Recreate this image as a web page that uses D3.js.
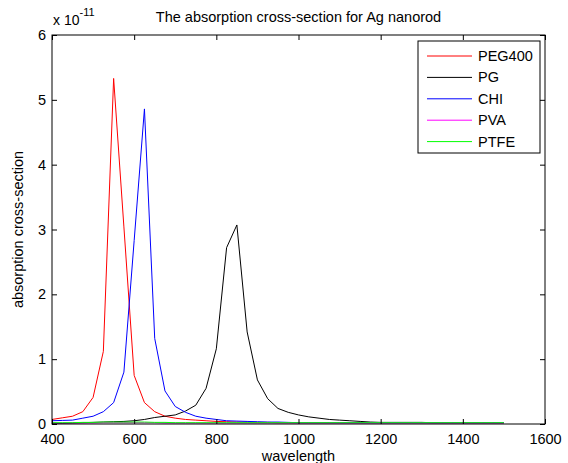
<!DOCTYPE html>
<html>
<head>
<meta charset="utf-8">
<script src="https://cdn.jsdelivr.net/npm/d3@7"></script>
<style>
body{margin:0;background:#fff}
text{font-family:"Liberation Sans",Arial,sans-serif;fill:#000}
</style>
</head>
<body>
<div id="chart"></div>
<script>
// wavelength grid (nm), values in units of 1e-11
var wavelength = [400,425,450,475,500,525,550,575,600,625,650,675,700,725,750,775,800,825,850,875,900,925,950,975,1000,
                  1025,1050,1075,1100,1125,1150,1175,1200,1225,1250,1275,1300,1325,1350,1375,1400,1425,1450,1475,1500]
var peg400 = [0.07,0.095,0.12,0.19,0.41,1.12,5.33,3.04,0.75,0.33,0.19,0.12,0.09,0.07,0.06,0.05,0.04,0.035,0.03,0.03,0.025,0.025,0.02,0.02,0.02,
              0.02,0.02,0.02,0.02,0.02,0.02,0.02,0.02,0.02,0.02,0.02,0.02,0.02,0.02,0.02,0.02,0.02,0.02,0.02,0.02]
var pg = [0.01,0.01,0.015,0.02,0.025,0.03,0.035,0.04,0.05,0.07,0.10,0.12,0.14,0.20,0.29,0.55,1.16,2.72,3.07,1.42,0.68,0.39,0.24,0.18,0.14,
          0.11,0.09,0.07,0.06,0.05,0.04,0.03,0.025,0.025,0.025,0.025,0.025,0.02,0.02,0.02,0.02,0.02,0.02,0.02,0.02]
var chi = [0.05,0.055,0.06,0.09,0.12,0.19,0.33,0.80,2.83,4.86,1.32,0.51,0.27,0.18,0.12,0.09,0.07,0.05,0.045,0.04,0.035,0.03,0.03,0.025,0.02,
           0.02,0.02,0.02,0.02,0.02,0.02,0.02,0.02,0.02,0.02,0.02,0.02,0.02,0.02,0.02,0.02,0.02,0.02,0.02,0.02]
var pva = [0.015,0.015,0.015,0.015,0.015,0.02,0.02,0.02,0.02,0.02,0.02,0.015,0.015,0.015,0.015,0.015,0.015,0.015,0.015,0.015,0.015,0.015,0.015,0.015,0.015,
           0.015,0.015,0.015,0.015,0.015,0.015,0.015,0.015,0.015,0.015,0.015,0.015,0.015,0.015,0.015,0.015,0.015,0.015,0.015,0.015]
var ptfe = [0.02,0.02,0.02,0.025,0.025,0.03,0.03,0.03,0.03,0.03,0.025,0.025,0.02,0.02,0.02,0.02,0.02,0.02,0.02,0.02,0.02,0.02,0.02,0.02,0.02,
            0.02,0.02,0.02,0.02,0.02,0.02,0.02,0.02,0.02,0.02,0.02,0.02,0.02,0.02,0.02,0.02,0.02,0.02,0.02,0.02]
var seriesNames = ["PEG400","PG","CHI","PVA","PTFE"]
var seriesColors = ["#ff0000","#000000","#0000ff","#ff00ff","#00ff00"]
var seriesValues = [peg400,pg,chi,pva,ptfe]
var xTicks = [400,600,800,1000,1200,1400,1600]
var yTicks = [0,1,2,3,4,5,6]

var W=568,H=463
var m={left:52,top:35,right:23,bottom:39}
var w=W-m.left-m.right, h=H-m.top-m.bottom

var svg=d3.select("#chart").append("svg").attr("width",W).attr("height",H)
svg.append("rect").attr("width",W).attr("height",H).attr("fill","#fff")

var x=d3.scaleLinear().domain([400,1600]).range([0,w])
var y=d3.scaleLinear().domain([0,6]).range([h,0])

var g=svg.append("g").attr("transform","translate("+m.left+","+m.top+")")

// lines
var line=d3.line().x(function(d,i){return x(wavelength[i])}).y(function(d){return y(d)})
g.selectAll("path.series").data(seriesValues).enter().append("path")
	.attr("class","series")
	.attr("d",line)
	.attr("fill","none")
	.attr("stroke",function(d,i){return seriesColors[i]})
	.attr("stroke-width",1)

// axes, ticks inward on all four sides
var tl=5
g.append("g").attr("transform","translate(0,"+h+")")
	.call(d3.axisBottom(x).tickValues(xTicks).tickFormat(d3.format("d")).tickSizeInner(-tl).tickSizeOuter(0).tickPadding(10))
g.append("g").call(d3.axisTop(x).tickValues(xTicks).tickSizeInner(-tl).tickSizeOuter(0).tickFormat(""))
g.append("g").call(d3.axisLeft(y).tickValues(yTicks).tickFormat(d3.format("d")).tickSizeInner(-tl).tickSizeOuter(0).tickPadding(6))
g.append("g").attr("transform","translate("+w+",0)")
	.call(d3.axisRight(y).tickValues(yTicks).tickSizeInner(-tl).tickSizeOuter(0).tickFormat(""))
g.selectAll(".domain").remove()
g.selectAll(".tick text").style("font-size","14.5px").style("font-family","'Liberation Sans',Arial,sans-serif")
g.append("rect").attr("width",w).attr("height",h).attr("fill","none").attr("stroke","#000").attr("stroke-width",1)

// title and labels
svg.append("text").attr("x",m.left+w/2).attr("y",22).attr("text-anchor","middle")
	.style("font-size","14.5px").text("The absorption cross-section for Ag nanorod")
var ex=svg.append("text").attr("x",53).attr("y",25).style("font-size","14px")
ex.append("tspan").text("x 10")
ex.append("tspan").attr("dy",-9).style("font-size","11px").text("-11")
svg.append("text").attr("x",m.left+w/2).attr("y",461).attr("text-anchor","middle")
	.style("font-size","14.5px").text("wavelength")
svg.append("text").attr("transform","translate(23,"+(m.top+h/2)+") rotate(-90)")
	.attr("text-anchor","middle").style("font-size","14.5px").text("absorption cross-section")

// legend
var lg=svg.append("g").attr("transform","translate(418,41)")
lg.append("rect").attr("width",122).attr("height",112).attr("fill","#fff").attr("stroke","#000")
var rows=lg.selectAll("g.row").data(seriesNames).enter().append("g").attr("class","row")
	.attr("transform",function(d,i){return "translate(0,"+(15+i*21.4)+")"})
rows.append("line").attr("x1",9).attr("x2",54).attr("stroke",function(d,i){return seriesColors[i]})
rows.append("text").attr("x",60).attr("dy","0.35em").style("font-size","14.5px").text(function(d){return d})
</script>
</body>
</html>
